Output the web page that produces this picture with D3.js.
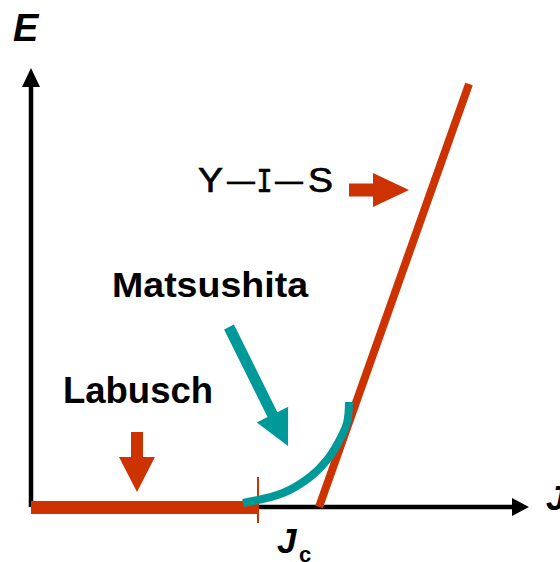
<!DOCTYPE html>
<html>
<head>
<meta charset="utf-8">
<script src="https://cdn.jsdelivr.net/npm/d3@7"></script>
<style>
  html, body { margin: 0; padding: 0; background: #fff; }
  svg { display: block; }
  text { font-family: "Liberation Sans", Arial, sans-serif; }
</style>
</head>
<body>
<script>
// E–J characteristic of a superconductor: Labusch (flat, below Jc),
// Matsushita (curved onset) and Y–I–S (linear flux-flow) regimes.
const W = 560, H = 562;

// Axis extents (J, E in arbitrary units)
const axisJmax = 99.6;
const axisEmax = 87.8;
const Jc = 45.4;

// Labusch regime: E = 0 up to Jc
const labuschJ = [0, Jc];
const labuschE = [0, 0];

// Y–I–S flux-flow line
const yisJ = [57.6, 87.6];
const yisE = [0, 84.6];

// Matsushita onset curve
const matsuJ = [42.4, 50.4, 55.8, 59.2, 61.4, 63.2, 63.6];
const matsuE = [0.8, 2.8, 6.0, 9.4, 12.8, 16.8, 21.0];

// Pointer arrows [fromJ, fromE, toJ, toE]
const labuschArrow = [21.2, 15.0, 21.2, 3.0];
const matsuArrow = [39.6, 36.0, 51.4, 12.2];
const yisArrow = [63.6, 63.4, 75.6, 63.4];

const colRed = "#CC3300";
const colTeal = "#009999";

const x = d3.scaleLinear().domain([0, 100]).range([31, 531]);
const y = d3.scaleLinear().domain([0, 100]).range([507, 7]);

const svg = d3.select("body").append("svg")
  .attr("width", W).attr("height", H);

// Axes
const axes = svg.append("g");
axes.append("line")
  .attr("x1", x(0)).attr("y1", y(0))
  .attr("x2", x(0)).attr("y2", y(axisEmax) + 16)
  .attr("stroke", "#000").attr("stroke-width", 4.5);
axes.append("line")
  .attr("x1", x(0)).attr("y1", y(0))
  .attr("x2", x(axisJmax) - 14).attr("y2", y(0))
  .attr("stroke", "#000").attr("stroke-width", 4.5);
// arrowheads
axes.append("path")
  .attr("d", `M${x(0)},${y(axisEmax)} L${x(0) + 9},${y(axisEmax) + 19} L${x(0) - 9},${y(axisEmax) + 19} Z`)
  .attr("fill", "#000");
axes.append("path")
  .attr("d", `M${x(axisJmax)},${y(0)} L${x(axisJmax) - 17},${y(0) - 9} L${x(axisJmax) - 17},${y(0) + 9} Z`)
  .attr("fill", "#000");

const line = d3.line().x(d => x(d[0])).y(d => y(d[1]));

// Labusch segment
svg.append("path")
  .attr("d", line(labuschJ.map((j, i) => [j, labuschE[i]])))
  .attr("stroke", colRed).attr("stroke-width", 13).attr("fill", "none")
  .attr("transform", "translate(0,0.5)");

// Jc tick
svg.append("line")
  .attr("x1", x(Jc)).attr("x2", x(Jc))
  .attr("y1", y(0) - 30).attr("y2", y(0) + 16)
  .attr("stroke", colRed).attr("stroke-width", 2);

// Y–I–S line
svg.append("path")
  .attr("d", line(yisJ.map((j, i) => [j, yisE[i]])))
  .attr("stroke", colRed).attr("stroke-width", 8).attr("fill", "none");

// Matsushita curve
svg.append("path")
  .attr("d", d3.line().curve(d3.curveCatmullRom.alpha(0.5))
    .x(d => x(d[0])).y(d => y(d[1]))(matsuJ.map((j, i) => [j, matsuE[i]])))
  .attr("stroke", colTeal).attr("stroke-width", 8).attr("fill", "none");

// Block arrow built from a start/end pair
function blockArrow(a, shaftW, headW, headL, color) {
  const x0 = x(a[0]), y0 = y(a[1]), x1 = x(a[2]), y1 = y(a[3]);
  const dx = x1 - x0, dy = y1 - y0, len = Math.hypot(dx, dy);
  const ux = dx / len, uy = dy / len, px = -uy, py = ux;
  const bx = x1 - ux * headL, by = y1 - uy * headL;
  const pts = [
    [x0 + px * shaftW / 2, y0 + py * shaftW / 2],
    [bx + px * shaftW / 2, by + py * shaftW / 2],
    [bx + px * headW / 2, by + py * headW / 2],
    [x1, y1],
    [bx - px * headW / 2, by - py * headW / 2],
    [bx - px * shaftW / 2, by - py * shaftW / 2],
    [x0 - px * shaftW / 2, y0 - py * shaftW / 2]
  ];
  svg.append("path")
    .attr("d", "M" + pts.map(p => p.join(",")).join("L") + "Z")
    .attr("fill", color);
}
blockArrow(labuschArrow, 12, 36, 35, colRed);
blockArrow(matsuArrow, 11, 35, 35, colTeal);
blockArrow(yisArrow, 13, 34, 36, colRed);

// Labels
svg.append("text").attr("x", 13).attr("y", 41)
  .attr("font-size", 38).attr("font-weight", "bold").attr("font-style", "italic")
  .text("E");
svg.append("text").attr("x", 546).attr("y", 510)
  .attr("font-size", 35).attr("font-weight", "bold").attr("font-style", "italic")
  .text("J");
const jc = svg.append("text").attr("x", 277).attr("y", 553);
jc.append("tspan").attr("font-size", 35).attr("font-weight", "bold").attr("font-style", "italic").text("J");
jc.append("tspan").attr("x", 299).attr("y", 562).attr("font-size", 22).attr("font-weight", "bold").text("c");

svg.append("text").attr("x", 112).attr("y", 297)
  .attr("font-size", 35).attr("font-weight", "bold")
  .attr("textLength", 196).attr("lengthAdjust", "spacingAndGlyphs")
  .text("Matsushita");
svg.append("text").attr("x", 63).attr("y", 403)
  .attr("font-size", 37).attr("font-weight", "bold")
  .attr("textLength", 150).attr("lengthAdjust", "spacingAndGlyphs")
  .text("Labusch");

// Y—I—S, each glyph placed on its own
const yis = svg.append("text").attr("y", 192).attr("font-size", 35)
  .attr("stroke", "#000").attr("stroke-width", 0.7);
yis.append("tspan").attr("x", 198).attr("textLength", 25)
  .attr("lengthAdjust", "spacingAndGlyphs").text("Y");
yis.append("tspan").attr("x", 227).attr("textLength", 28)
  .attr("lengthAdjust", "spacingAndGlyphs").attr("stroke-width", 0.4).text("—");
yis.append("tspan").attr("x", 256.5).attr("textLength", 16)
  .attr("lengthAdjust", "spacingAndGlyphs")
  .style("font-family", "'DejaVu Sans Mono', monospace")
  .attr("stroke-width", 0.6)
  .attr("font-size", 32).text("I");
yis.append("tspan").attr("x", 275).attr("textLength", 28)
  .attr("lengthAdjust", "spacingAndGlyphs").attr("stroke-width", 0.4).text("—");
yis.append("tspan").attr("x", 308).attr("textLength", 25)
  .attr("lengthAdjust", "spacingAndGlyphs").text("S");
</script>
</body>
</html>
